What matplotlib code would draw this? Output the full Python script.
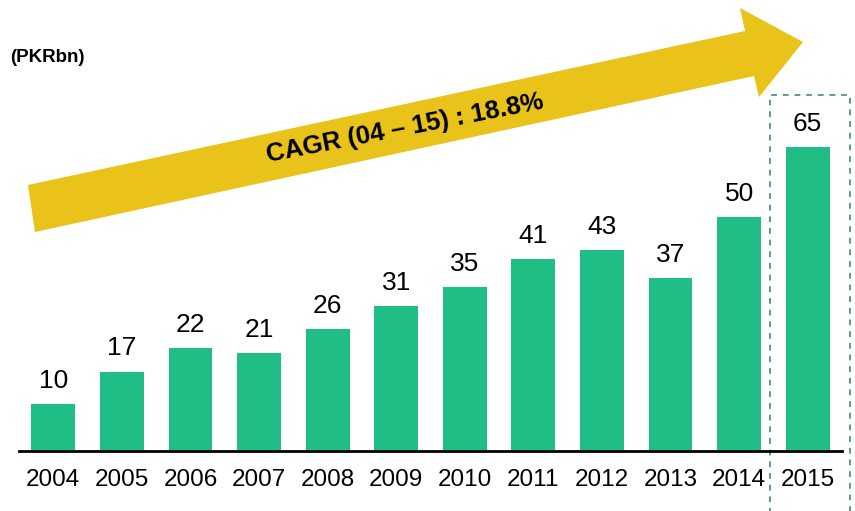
import matplotlib.pyplot as plt
from matplotlib.patches import Polygon, Rectangle

plt.rcParams['font.family'] = ['Liberation Sans', 'DejaVu Sans']

years = ['2004', '2005', '2006', '2007', '2008', '2009', '2010', '2011', '2012', '2013', '2014', '2015']
values = [10, 17, 22, 21, 26, 31, 35, 41, 43, 37, 50, 65]

W, H = 855, 511
bar_color = '#20BD84'
arrow_color = '#E9C31A'
box_color = '#55A577'

fig = plt.figure(figsize=(W / 100, H / 100), dpi=100)
ax = fig.add_axes([19 / W, (H - 451) / H, (842 - 19) / W, 451 / H])

x = list(range(len(years)))
ax.bar(x, values, width=0.64, color=bar_color)
for xi, v in zip(x, values):
    ax.annotate(str(v), (xi, v), xytext=(0, 8), textcoords='offset points',
                ha='center', va='bottom', fontsize=19)

ax.set_xlim(-0.5, 11.5)
ax.set_ylim(0, 96.5)
ax.set_xticks(x)
ax.set_xticklabels(years, fontsize=17.5)
ax.tick_params(axis='x', length=0, pad=13)
ax.set_yticks([])
for s in ['top', 'left', 'right']:
    ax.spines[s].set_visible(False)
ax.spines['bottom'].set_linewidth(2)
ax.spines['bottom'].set_color('black')

# dashed highlight box around the last year
box = Rectangle((10.45, -14), 1.17, 90.1, fill=False, edgecolor=box_color,
                linewidth=1.4, linestyle=(0, (3, 3)), clip_on=False)
ax.add_patch(box)

# big CAGR arrow (pixel layout -> figure fraction)
arrow_px = [(28, 185), (745, 31), (740, 8), (803, 42), (759, 97), (754, 76), (35, 232)]
arrow = Polygon([(px / W, 1 - py / H) for px, py in arrow_px], closed=True,
                facecolor=arrow_color, edgecolor='none', transform=fig.transFigure)
fig.patches.append(arrow)

fig.text(405 / W, 1 - 128 / H, 'CAGR (04 – 15) : 18.8%', fontsize=18.5, fontweight='bold',
         rotation=11, ha='center', va='center', rotation_mode='anchor')
fig.text(10 / W, 1 - 57 / H, '(PKRbn)', fontsize=13.5, fontweight='bold', ha='left', va='center')

fig.savefig('out.png', dpi=100)
